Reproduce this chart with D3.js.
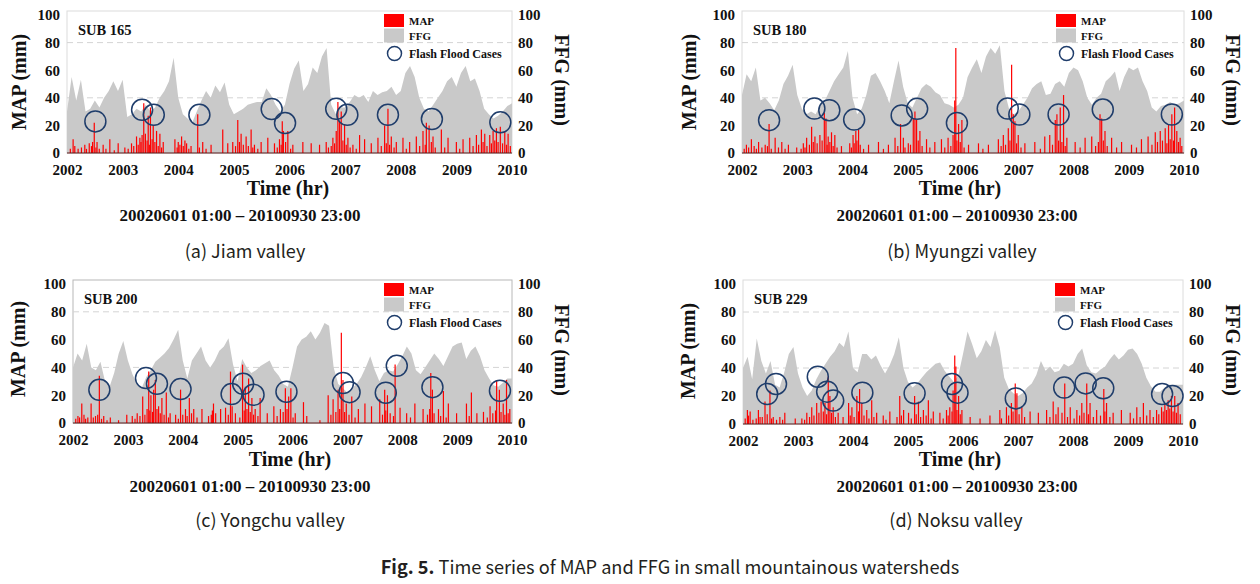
<!DOCTYPE html>
<html><head><meta charset="utf-8">
<script src="https://cdn.jsdelivr.net/npm/d3@7"></script>
<style>
html,body{margin:0;padding:0;background:#fff;}
svg{display:block;}
</style></head><body>
<svg id="chart" width="1260" height="584"></svg>
<script>
// ---------------- DATA ----------------
const years = [2002,2003,2004,2005,2006,2007,2008,2009,2010];
const yTicks = [0,20,40,60,80,100];
const subNames = ["SUB 165","SUB 180","SUB 200","SUB 229"];
const panelLabels = ["(a) Jiam valley","(b) Myungzi valley","(c) Yongchu valley","(d) Noksu valley"];
const periodText = "20020601 01:00 \u2013 20100930 23:00";
const legendNames = ["MAP","FFG","Flash Flood Cases"];

// FFG (mm), one value per month, 2002.0 .. 2010.0
const ffgA = [30,55,38,53,30,32,38,33,40,45,52,45,
  53,26,28,32,30,35,30,33,40,45,52,69,
  40,28,25,22,30,38,45,40,49,44,51,35,
  28,30,32,35,36,37,37,47,42,35,30,35,
  50,61,67,45,50,62,58,70,76,35,28,33,
  33,37,42,40,42,37,45,42,44,45,48,42,
  45,58,63,55,40,32,30,35,40,45,52,55,
  48,58,63,52,54,45,32,28,25,27,30,34,36];
const ffgB = [42,57,52,62,38,40,36,31,38,50,56,64,
  42,32,28,30,28,35,38,45,52,57,62,74,
  40,28,32,42,56,58,52,45,36,52,67,48,
  36,33,40,47,50,48,44,42,36,35,33,35,
  40,55,62,68,58,70,76,72,78,45,32,28,
  30,35,40,47,50,52,42,43,50,52,48,58,
  62,60,52,40,35,40,43,52,55,59,45,55,
  62,60,62,52,45,33,30,34,35,37,35,36,38];
const ffgC = [40,50,45,57,40,38,44,30,26,36,50,59,
  45,35,28,25,33,38,44,47,50,54,60,67,
  45,32,45,50,55,45,40,45,52,55,61,42,
  30,46,40,36,38,41,43,45,38,34,28,26,
  40,55,60,62,66,60,65,72,70,40,28,25,
  22,25,28,33,40,48,38,30,36,38,37,42,
  48,55,50,38,35,40,45,50,46,41,48,55,
  57,58,46,52,55,48,38,32,27,26,29,32,32];
const ffgD = [40,48,32,61,45,36,45,28,26,37,50,55,
  36,26,20,24,32,38,43,48,52,58,55,66,
  40,37,50,50,46,49,42,36,42,50,62,40,
  30,26,29,33,37,40,43,44,38,34,30,35,
  50,66,57,47,52,60,55,67,55,33,25,22,
  20,22,26,29,35,45,38,41,37,38,43,41,
  43,50,54,42,37,36,39,41,46,50,46,49,
  53,54,50,43,33,27,23,23,26,28,28,28,28];

// MAP (mm): [time in years, value] — larger events
const mapPeaksA = [[2002.11,10],[2002.32,6],[2002.40,7],[2002.49,22],[2002.54,8],[2002.65,6],[2002.77,10],[2002.92,7],
  [2003.04,4],[2003.16,7],[2003.25,12],[2003.31,11],[2003.35,13],[2003.38,36],[2003.41,14],[2003.46,27],[2003.50,33],
  [2003.55,20],[2003.61,16],[2003.67,14],[2003.73,8],[2003.94,10],[2004.00,8],[2004.06,12],[2004.15,7],[2004.23,5],
  [2004.35,28],[2004.44,8],[2004.59,6],[2004.80,17],[2004.89,7],[2004.98,8],[2005.07,24],[2005.13,14],[2005.22,12],
  [2005.31,17],[2005.37,6],[2005.49,8],[2005.61,11],[2005.73,7],[2005.82,10],[2005.87,23],[2005.89,16],[2005.97,16],
  [2006.06,6],[2006.24,8],[2006.39,7],[2006.54,6],[2006.66,8],[2006.78,11],[2006.84,16],[2006.87,37],[2006.90,23],
  [2006.93,30],[2006.99,21],[2007.05,11],[2007.14,6],[2007.26,13],[2007.35,10],[2007.47,7],[2007.59,11],[2007.71,20],
  [2007.77,32],[2007.83,12],[2007.92,8],[2008.04,11],[2008.16,8],[2008.28,12],[2008.40,16],[2008.46,22],[2008.51,20],
  [2008.58,12],[2008.73,17],[2008.85,11],[2009.00,8],[2009.12,10],[2009.24,11],[2009.36,13],[2009.45,17],[2009.51,14],
  [2009.60,13],[2009.66,16],[2009.72,18],[2009.79,19],[2009.87,16],[2009.93,14]];
const mapPeaksB = [[2002.08,6],[2002.17,10],[2002.30,8],[2002.42,6],[2002.49,21],[2002.60,11],[2002.72,8],[2002.84,6],
  [2002.99,4],[2003.11,7],[2003.17,11],[2003.26,19],[2003.32,12],[2003.41,13],[2003.49,29],[2003.52,25],[2003.56,12],
  [2003.62,15],[2003.68,13],[2003.80,5],[2003.95,7],[2004.01,13],[2004.06,16],[2004.11,17],[2004.29,6],[2004.47,8],
  [2004.65,6],[2004.77,11],[2004.87,21],[2004.92,11],[2005.01,7],[2005.10,25],[2005.13,30],[2005.16,24],[2005.22,16],
  [2005.34,10],[2005.49,8],[2005.61,10],[2005.73,11],[2005.82,13],[2005.85,38],[2005.87,76],[2005.92,21],[2005.98,24],
  [2006.10,6],[2006.28,7],[2006.46,6],[2006.64,10],[2006.73,13],[2006.82,18],[2006.88,64],[2006.91,28],[2006.94,23],
  [2007.00,13],[2007.12,7],[2007.30,8],[2007.48,12],[2007.57,13],[2007.67,24],[2007.70,28],[2007.76,33],[2007.82,42],
  [2007.88,11],[2008.03,8],[2008.21,11],[2008.33,12],[2008.48,28],[2008.51,25],[2008.57,16],[2008.69,11],[2008.87,8],
  [2009.05,6],[2009.23,10],[2009.35,12],[2009.48,15],[2009.57,16],[2009.66,18],[2009.72,21],[2009.78,28],[2009.83,33],
  [2009.87,16],[2009.93,11]];
const mapPeaksC = [[2002.09,5],[2002.16,14],[2002.27,4],[2002.33,14],[2002.41,5],[2002.48,34],[2002.56,5],[2002.68,4],
  [2002.83,2],[2002.98,6],[2003.08,5],[2003.17,7],[2003.27,19],[2003.35,10],[2003.38,37],[2003.42,20],[2003.47,24],
  [2003.50,31],[2003.56,12],[2003.62,18],[2003.70,22],[2003.77,7],[2003.87,6],[2003.96,24],[2004.05,10],[2004.12,18],
  [2004.20,10],[2004.35,10],[2004.47,5],[2004.56,14],[2004.69,10],[2004.78,11],[2004.87,37],[2004.90,12],[2004.96,7],
  [2005.09,42],[2005.14,26],[2005.20,32],[2005.26,18],[2005.32,10],[2005.41,18],[2005.54,7],[2005.66,12],[2005.78,10],
  [2005.87,25],[2005.93,19],[2005.97,25],[2006.05,7],[2006.20,15],[2006.26,5],[2006.50,2],[2006.65,20],[2006.74,17],
  [2006.83,24],[2006.89,65],[2006.92,31],[2006.98,14],[2007.08,19],[2007.20,10],[2007.32,14],[2007.44,12],[2007.59,17],
  [2007.68,24],[2007.73,20],[2007.87,42],[2007.96,11],[2008.08,7],[2008.23,14],[2008.38,10],[2008.52,36],[2008.55,24],
  [2008.66,10],[2008.75,23],[2008.84,14],[2008.99,7],[2009.17,14],[2009.26,22],[2009.36,7],[2009.48,8],[2009.60,12],
  [2009.72,31],[2009.77,24],[2009.84,14],[2009.90,31],[2009.96,10]];
const mapPeaksD = [[2002.08,10],[2002.13,9],[2002.28,10],[2002.31,5],[2002.40,16],[2002.49,24],[2002.55,5],[2002.67,5],
  [2002.76,8],[2002.95,4],[2003.07,4],[2003.16,8],[2003.25,12],[2003.34,15],[2003.42,16],[2003.49,15],[2003.55,34],
  [2003.58,20],[2003.64,12],[2003.73,8],[2003.82,5],[2003.92,15],[2003.98,12],[2004.07,20],[2004.12,25],[2004.16,15],
  [2004.25,10],[2004.34,17],[2004.43,8],[2004.55,6],[2004.67,9],[2004.85,20],[2004.92,10],[2005.01,8],[2005.12,20],
  [2005.19,16],[2005.28,10],[2005.37,17],[2005.46,9],[2005.58,8],[2005.70,10],[2005.76,12],[2005.82,24],[2005.85,49],
  [2005.87,41],[2005.92,20],[2005.98,10],[2006.13,5],[2006.31,4],[2006.49,6],[2006.67,10],[2006.79,12],[2006.88,15],
  [2006.95,29],[2006.98,22],[2007.07,12],[2007.22,9],[2007.37,8],[2007.52,10],[2007.64,16],[2007.73,12],[2007.85,29],
  [2007.95,12],[2008.07,10],[2008.16,15],[2008.25,29],[2008.31,15],[2008.43,10],[2008.56,25],[2008.61,15],[2008.73,8],
  [2008.88,10],[2009.04,8],[2009.16,12],[2009.28,15],[2009.40,10],[2009.52,10],[2009.61,12],[2009.67,15],[2009.73,17],
  [2009.79,20],[2009.85,20],[2009.91,15]];

// MAP (mm): [time in years, value] — small events near the baseline
const mapLowA = [[2002.06,3],[2002.14,5],[2002.20,3],[2002.26,4],[2002.35,3],[2002.44,5],[2002.46,8],[2002.52,4],
  [2002.58,3],[2002.70,3],[2002.85,2],[2003.10,3],[2003.20,5],[2003.28,6],[2003.33,8],[2003.44,9],[2003.48,6],
  [2003.53,10],[2003.58,8],[2003.64,5],[2003.70,4],[2003.98,4],[2004.03,6],[2004.09,5],[2004.12,9],[2004.19,3],
  [2004.38,4],[2004.50,3],[2005.03,5],[2005.10,8],[2005.17,6],[2005.26,5],[2005.34,4],[2005.43,3],[2005.78,4],
  [2005.85,6],[2005.93,8],[2006.02,3],[2006.70,4],[2006.75,5],[2006.81,7],[2006.96,9],[2007.02,6],[2007.09,4],
  [2007.20,3],[2007.65,5],[2007.74,7],[2007.80,6],[2007.88,4],[2008.10,3],[2008.34,5],[2008.44,6],[2008.55,8],
  [2008.62,4],[2008.79,4],[2009.06,3],[2009.30,5],[2009.40,6],[2009.48,8],[2009.55,5],[2009.63,7],[2009.69,9],
  [2009.75,8],[2009.83,7],[2009.90,6],[2009.97,5]];
const mapLowB = [[2002.04,3],[2002.12,4],[2002.22,5],[2002.26,3],[2002.36,4],[2002.46,5],[2002.53,3],[2002.66,4],
  [2002.78,3],[2003.07,3],[2003.14,4],[2003.22,6],[2003.29,8],[2003.36,7],[2003.45,9],[2003.54,6],[2003.59,8],
  [2003.65,5],[2003.72,4],[2003.98,4],[2004.03,7],[2004.08,9],[2004.14,6],[2004.20,3],[2004.56,3],[2004.82,5],
  [2004.95,4],[2005.05,6],[2005.19,9],[2005.26,5],[2005.40,4],[2005.67,4],[2005.78,5],[2005.89,9],[2005.95,8],
  [2006.02,4],[2006.36,3],[2006.69,5],[2006.77,6],[2006.85,9],[2006.97,7],[2007.05,4],[2007.40,3],[2007.62,6],
  [2007.73,9],[2007.79,8],[2007.85,5],[2008.12,4],[2008.40,5],[2008.45,8],[2008.54,9],[2008.61,5],[2008.78,4],
  [2009.14,4],[2009.42,6],[2009.52,8],[2009.61,9],[2009.69,7],[2009.75,10],[2009.81,9],[2009.90,8],[2009.96,5]];
const mapLowC = [[2002.05,3],[2002.12,4],[2002.20,6],[2002.23,3],[2002.37,4],[2002.45,6],[2002.52,3],[2002.62,2],
  [2003.13,3],[2003.22,5],[2003.31,6],[2003.40,9],[2003.45,8],[2003.53,10],[2003.59,7],[2003.66,6],[2003.74,4],
  [2003.92,3],[2004.00,6],[2004.08,5],[2004.16,7],[2004.26,4],[2004.52,6],[2004.54,9],[2004.60,7],[2004.83,6],
  [2005.04,4],[2005.12,9],[2005.17,10],[2005.23,8],[2005.29,6],[2005.37,5],[2005.72,5],[2005.83,8],[2005.90,10],
  [2006.01,4],[2006.70,6],[2006.79,8],[2006.86,10],[2006.95,8],[2007.03,6],[2007.14,4],[2007.64,6],[2007.70,9],
  [2007.78,7],[2007.84,5],[2008.15,4],[2008.46,6],[2008.50,10],[2008.58,7],[2008.70,5],[2008.80,4],[2009.22,5],
  [2009.55,4],[2009.65,7],[2009.70,9],[2009.80,8],[2009.87,6],[2009.93,7]];
const mapLowD = [[2002.04,4],[2002.10,6],[2002.18,3],[2002.24,4],[2002.35,5],[2002.44,7],[2002.52,4],[2002.61,3],
  [2002.72,3],[2003.12,3],[2003.21,5],[2003.29,6],[2003.38,8],[2003.46,9],[2003.52,7],[2003.61,8],[2003.68,5],
  [2003.95,6],[2004.02,5],[2004.10,9],[2004.20,6],[2004.29,4],[2004.38,5],[2004.60,3],[2004.80,5],[2004.88,6],
  [2005.06,4],[2005.15,7],[2005.23,5],[2005.33,6],[2005.42,4],[2005.64,4],[2005.73,6],[2005.80,9],[2005.89,10],
  [2005.95,7],[2006.70,4],[2006.83,6],[2006.91,9],[2007.02,7],[2007.12,5],[2007.58,5],[2007.69,7],[2007.80,8],
  [2007.90,5],[2008.02,4],[2008.12,6],[2008.20,8],[2008.28,7],[2008.37,5],[2008.50,6],[2008.58,9],[2008.67,5],
  [2009.10,4],[2009.22,5],[2009.34,6],[2009.46,5],[2009.56,7],[2009.64,9],[2009.70,10],[2009.76,11],[2009.82,9],
  [2009.88,8],[2009.95,7]];

// Flash flood cases: [time in years, value]
const casesA = [[2002.51,22.9],[2003.35,31.3],[2003.56,27.7],[2004.38,27.7],[2005.68,31.8],[2005.92,21.7],
  [2006.84,32],[2007.04,27.7],[2007.77,27.7],[2008.56,24.6],[2009.79,22.2]];
const casesB = [[2002.49,23.8],[2003.31,32.2],[2003.58,31],[2004.03,24.2],[2004.89,27.2],[2005.17,32],
  [2005.89,21.8],[2006.81,32.2],[2007.02,27.9],[2007.73,27.9],[2008.53,31.5],[2009.78,27.9]];
const casesC = [[2002.48,23.9],[2003.33,32.3],[2003.53,28.2],[2003.96,24.4],[2004.89,20.8],[2005.10,28.2],
  [2005.29,20.3],[2005.89,22.5],[2006.92,28.7],[2007.04,22.2],[2007.70,21.8],[2007.90,41.1],[2008.55,25.8],[2009.78,23.2]];
const casesD = [[2002.44,21.4],[2002.60,28.6],[2003.36,33.8],[2003.53,23.1],[2003.64,16.7],[2004.17,22.4],
  [2005.12,21.9],[2005.80,28.6],[2005.90,22.4],[2006.96,18.3],[2007.84,26],[2008.23,29],[2008.55,25.5],
  [2009.62,21.4],[2009.81,20]];

// ---------------- LAYOUT ----------------
const layout = [
  {x0:67, x1:512, yTop:15, y0:153, mapLab:[18.5,82], ffgLab:[562,80], time:[288,188], per:[240,215], lab:[245,252], border:"#dcdcdc"},
  {x0:742,x1:1184,yTop:15, y0:153, mapLab:[688.5,82],ffgLab:[1233,80],time:[960,188], per:[957,215], lab:[962,252], border:"#dcdcdc"},
  {x0:73, x1:512, yTop:284,y0:423, mapLab:[18,349],  ffgLab:[562,350],time:[290,459], per:[250,486], lab:[270,521], border:"#b8b8b8"},
  {x0:743,x1:1183,yTop:284,y0:424, mapLab:[688,351], ffgLab:[1233,350],time:[960,459],per:[957,486], lab:[956,521], border:"#dcdcdc"}
];
const ffgAll = [ffgA, ffgB, ffgC, ffgD];
const mapAll = [mapPeaksA.concat(mapLowA), mapPeaksB.concat(mapLowB), mapPeaksC.concat(mapLowC), mapPeaksD.concat(mapLowD)];
const casesAll = [casesA, casesB, casesC, casesD];

const SERIF = "'Liberation Serif','Times New Roman',serif";
const SANS = "'Noto Sans CJK KR','Noto Sans',sans-serif";
const RED = "#ff0000", GRAY = "#c9c9c9", NAVY = "#1f3d6b";

const svg = d3.select("#chart");

layout.forEach((L, p) => {
  const g = svg.append("g");
  const x = d3.scaleLinear().domain([2002, 2010]).range([L.x0, L.x1]);
  const y = d3.scaleLinear().domain([0, 100]).range([L.y0, L.yTop]);

  g.append("rect").attr("x", L.x0).attr("y", L.yTop - 4)
    .attr("width", L.x1 - L.x0).attr("height", L.y0 - L.yTop + 4)
    .attr("fill", "none").attr("stroke", L.border).attr("stroke-width", 1);

  g.selectAll("line.grid").data([40, 80]).join("line")
    .attr("x1", L.x0).attr("x2", L.x1)
    .attr("y1", d => y(d)).attr("y2", d => y(d))
    .attr("stroke", "#d4d4d4").attr("stroke-dasharray", "6,4").attr("stroke-width", 1);

  const area = d3.area()
    .x((d, i) => x(2002 + i / 12))
    .y0(y(0)).y1(d => y(d));
  g.append("path").datum(ffgAll[p]).attr("d", area).attr("fill", GRAY);

  g.selectAll("line.map").data(mapAll[p]).join("line")
    .attr("x1", d => x(d[0])).attr("x2", d => x(d[0]))
    .attr("y1", y(0)).attr("y2", d => y(d[1]))
    .attr("stroke", RED).attr("stroke-width", 1.2);

  g.append("line").attr("x1", L.x0).attr("x2", L.x1).attr("y1", y(0)).attr("y2", y(0))
    .attr("stroke", "#5a1a1a").attr("stroke-width", 1.2);

  g.selectAll("circle.case").data(casesAll[p]).join("circle")
    .attr("cx", d => x(d[0])).attr("cy", d => y(d[1])).attr("r", 10.5)
    .attr("fill", "none").attr("stroke", NAVY).attr("stroke-width", 1.5);

  const ax = d3.axisBottom(x).tickValues(years).tickFormat(d3.format("d")).tickSize(0).tickPadding(11.5);
  const gx = g.append("g").attr("transform", `translate(0,${L.y0})`).call(ax);
  const ayl = d3.axisLeft(y).tickValues(yTicks).tickSize(0).tickPadding(7);
  const gyl = g.append("g").attr("transform", `translate(${L.x0},0)`).call(ayl);
  const ayr = d3.axisRight(y).tickValues(yTicks).tickSize(0).tickPadding(6);
  const gyr = g.append("g").attr("transform", `translate(${L.x1},0)`).call(ayr);
  [gx, gyl, gyr].forEach(a => {
    a.select(".domain").remove();
    a.selectAll("text").attr("font-family", SERIF).attr("font-weight", "bold")
      .attr("font-size", 15).attr("fill", "#111");
  });

  g.append("text").attr("x", L.x0 + 11).attr("y", L.yTop + 20)
    .attr("font-family", SERIF).attr("font-weight", "bold").attr("font-size", 14.5)
    .attr("fill", "#111").text(subNames[p]);

  const lx = L.x1 - 128, ly = L.yTop;
  g.append("rect").attr("x", lx).attr("y", ly - 1).attr("width", 20).attr("height", 13).attr("fill", RED);
  g.append("rect").attr("x", lx).attr("y", ly + 13.5).attr("width", 20).attr("height", 14).attr("fill", GRAY);
  g.append("circle").attr("cx", lx + 10.5).attr("cy", ly + 38.5).attr("r", 7)
    .attr("fill", "none").attr("stroke", NAVY).attr("stroke-width", 1.5);
  const lt = [ly + 6, ly + 21, ly + 38.5];
  legendNames.forEach((name, k) => {
    g.append("text").attr("x", lx + 25).attr("y", lt[k]).attr("dy", "0.35em")
      .attr("font-family", SERIF).attr("font-weight", "bold")
      .attr("font-size", k === 2 ? 12 : 11).attr("fill", "#111").text(name);
  });

  g.append("text").attr("transform", `translate(${L.mapLab[0]},${L.mapLab[1]}) rotate(-90)`)
    .attr("text-anchor", "middle").attr("dy", "0.35em")
    .attr("font-family", SERIF).attr("font-weight", "bold").attr("font-size", 20).attr("fill", "#111")
    .text("MAP (mm)");
  g.append("text").attr("transform", `translate(${L.ffgLab[0]},${L.ffgLab[1]}) rotate(90)`)
    .attr("text-anchor", "middle").attr("dy", "0.35em")
    .attr("font-family", SERIF).attr("font-weight", "bold").attr("font-size", 20).attr("fill", "#111")
    .text("FFG (mm)");
  g.append("text").attr("x", L.time[0]).attr("y", L.time[1]).attr("dy", "0.35em")
    .attr("text-anchor", "middle")
    .attr("font-family", SERIF).attr("font-weight", "bold").attr("font-size", 20).attr("fill", "#111")
    .text("Time (hr)");
  g.append("text").attr("x", L.per[0]).attr("y", L.per[1]).attr("dy", "0.35em")
    .attr("text-anchor", "middle")
    .attr("font-family", SERIF).attr("font-weight", "bold").attr("font-size", 17).attr("fill", "#111")
    .text(periodText);
  g.append("text").attr("x", L.lab[0]).attr("y", L.lab[1]).attr("dy", "0.35em")
    .attr("text-anchor", "middle")
    .attr("font-family", SANS).attr("font-weight", 400).attr("font-size", 18).attr("fill", "#231f20")
    .text(panelLabels[p]);
});

const cap = svg.append("text").attr("x", 670).attr("y", 568).attr("dy", "0.35em")
  .attr("text-anchor", "middle").attr("font-family", SANS).attr("font-size", 18.2).attr("fill", "#231f20");
cap.append("tspan").attr("font-weight", "bold").text("Fig. 5.");
cap.append("tspan").attr("font-weight", 400).text(" Time series of MAP and FFG in small mountainous watersheds");
</script>
</body></html>
